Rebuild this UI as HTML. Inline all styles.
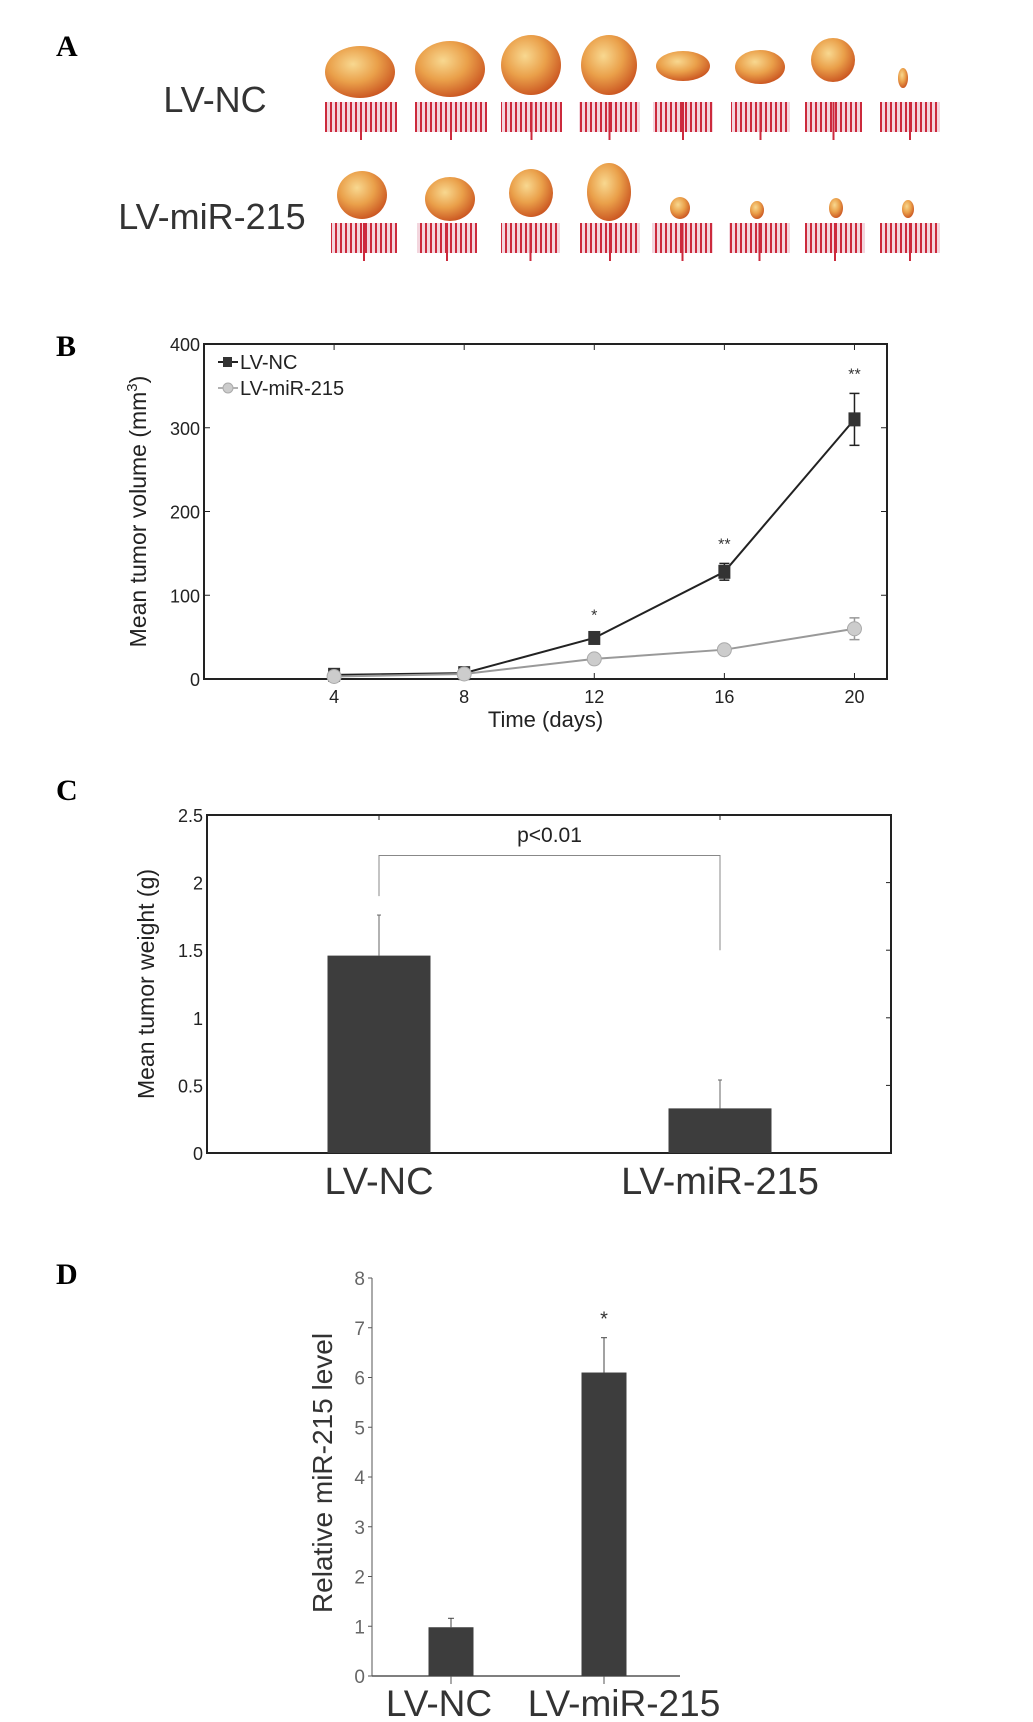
<!DOCTYPE html>
<html><head><meta charset="utf-8"><style>
html,body{margin:0;padding:0;background:#fff;}
svg{display:block;font-family:"Liberation Sans",Arial,sans-serif;}
.pl{font-family:"Liberation Serif",serif;font-weight:bold;font-size:30px;}
</style></head><body>
<svg id="fig" width="1033" height="1722" viewBox="0 0 1033 1722" xmlns="http://www.w3.org/2000/svg">
<defs>
<radialGradient id="tg" cx="0.4" cy="0.35" r="0.7">
<stop offset="0" stop-color="#f8d890"/><stop offset="0.5" stop-color="#eaa04a"/><stop offset="1" stop-color="#c8501e"/>
</radialGradient>
<pattern id="rul" width="5" height="40" patternUnits="userSpaceOnUse">
<rect width="5" height="40" fill="#f3d6de"/><rect x="0" width="2" height="40" fill="#cc2a3c"/>
</pattern>
</defs>
<text class="pl" x="56" y="56">A</text>
<text x="215" y="112" font-size="36" text-anchor="middle" fill="#333">LV-NC</text>
<text x="212" y="229" font-size="36" text-anchor="middle" fill="#333">LV-miR-215</text>
<g id="photos"></g>

<text class="pl" x="56" y="356">B</text>
<g id="chartB"></g>
<text class="pl" x="56" y="800">C</text>
<g id="chartC"></g>
<text class="pl" x="56" y="1284">D</text>
<g id="chartD"></g>
</svg>
<script>
// ---- Panel B data ----
const daysB = [4, 8, 12, 16, 20];
const ncVol = [5, 7, 49, 128, 310];
const ncErr = [2, 2, 4, 10, 31];
const mirVol = [3, 6, 24, 35, 60];
const mirErr = [2, 2, 3, 4, 13];
const starsB = ["", "", "*", "**", "**"];
const yTicksB = [0, 100, 200, 300, 400];
const xTicksB = [4, 8, 12, 16, 20];
// ---- Panel C data ----
const catsC = ["LV-NC", "LV-miR-215"];
const weightC = [1.46, 0.33];
const weightErrC = [0.30, 0.21];
const yTicksC = [0, 0.5, 1, 1.5, 2, 2.5];
// ---- Panel D data ----
const catsD = ["LV-NC", "LV-miR-215"];
const levelD = [0.98, 6.1];
const levelErrD = [0.18, 0.7];
const yTicksD = [0, 1, 2, 3, 4, 5, 6, 7, 8];

const NS = "http://www.w3.org/2000/svg";
function mk(p, tag, a, txt){const e=document.createElementNS(NS,tag);for(const k in a)e.setAttribute(k,a[k]);if(txt!==undefined)e.textContent=txt;p.appendChild(e);return e;}

// ---- Panel A photos ----
const ph = document.getElementById('photos');
const tum = [[360,72,35,26],[450,69,35,28],[531,65,30,30],[609,65,28,30],[683,66,27,15],[760,67,25,17],[833,60,22,22],[903,78,5,10],
[362,195,25,24],[450,199,25,22],[531,193,22,24],[609,192,22,29],[680,208,10,11],[757,210,7,9],[836,208,7,10],[908,209,6,9]];
const rul = [[325,397,102],[415,487,102],[501,562,102],[579,640,102],[653,713,102],[731,790,102],[805,862,102],[880,940,102],
[331,397,223],[417,477,223],[501,560,223],[580,640,223],[652,713,223],[729,790,223],[805,865,223],[880,940,223]];
rul.forEach(r=>{
  const g=mk(ph,'rect',{x:r[0],y:r[2],width:r[1]-r[0],height:30,fill:'url(#rul)'});
  
  
  mk(ph,'line',{x1:(r[0]+r[1])/2,x2:(r[0]+r[1])/2,y1:r[2],y2:r[2]+38,stroke:'#cc2a3c','stroke-width':2});
});
tum.forEach(t=>{
  const e=mk(ph,'ellipse',{cx:t[0],cy:t[1],rx:t[2],ry:t[3],fill:'url(#tg)'});
  
  
});

// ---- Panel B ----
(function(){
  const g=document.getElementById('chartB');
  const L=204,R=887,T=344,B=679;
  const x=d=>L+(d-0)*(R-L)/21, y=v=>B-v*(B-T)/400;
  mk(g,'rect',{x:L,y:T,width:R-L,height:B-T,fill:'none',stroke:'#222','stroke-width':2});
  yTicksB.forEach(t=>{
    mk(g,'line',{x1:L,x2:L+6,y1:y(t),y2:y(t),stroke:'#222'});
    mk(g,'line',{x1:R,x2:R-6,y1:y(t),y2:y(t),stroke:'#222'});
    const tx=mk(g,'text',{x:L-4,y:y(t)+7,'font-size':18,'text-anchor':'end',fill:'#222'},String(t));
    
    
  });
  xTicksB.forEach(t=>{
    mk(g,'line',{x1:x(t),x2:x(t),y1:B,y2:B-6,stroke:'#222'});
    mk(g,'line',{x1:x(t),x2:x(t),y1:T,y2:T+6,stroke:'#222'});
    const tx=mk(g,'text',{x:x(t),y:B+24,'font-size':18,'text-anchor':'middle',fill:'#222'},String(t));
    
    
  });
  const xt=mk(g,'text',{x:x(10.5),y:B+48,'font-size':22,'text-anchor':'middle',fill:'#222'},'Time (days)');
  
  
  const yt=mk(g,'text',{transform:`translate(146,${(T+B)/2}) rotate(-90)`,'font-size':23,'text-anchor':'middle',fill:'#222'});
  
  
  yt.textContent='Mean tumor volume (mm';
  mk(yt,'tspan',{'font-size':15,dy:-9},'3');
  mk(yt,'tspan',{dy:9},')');
  const draw=(vals,errs,col,mark,name)=>{
    const pl=mk(g,'polyline',{points:daysB.map((d,i)=>x(d)+','+y(vals[i])).join(' '),fill:'none',stroke:col,'stroke-width':2});
    
    
    daysB.forEach((d,i)=>{
      const cx=x(d),cy=y(vals[i]);
      mk(g,'line',{x1:cx,x2:cx,y1:y(vals[i]+errs[i]),y2:y(vals[i]-errs[i]),stroke:col,'stroke-width':1.5});
      mk(g,'line',{x1:cx-5,x2:cx+5,y1:y(vals[i]+errs[i]),y2:y(vals[i]+errs[i]),stroke:col,'stroke-width':1.5});
      mk(g,'line',{x1:cx-5,x2:cx+5,y1:y(vals[i]-errs[i]),y2:y(vals[i]-errs[i]),stroke:col,'stroke-width':1.5});
      let m;
      if(mark==='sq') m=mk(g,'rect',{x:cx-6,y:cy-7,width:12,height:14,fill:'#333'});
      else m=mk(g,'ellipse',{cx:cx,cy:cy,rx:7,ry:7,fill:'#ccc',stroke:'#aaa'});
      
      
    });
  };
  draw(ncVol,ncErr,'#222','sq','lv-nc');
  draw(mirVol,mirErr,'#999','ci','lv-mir-215');
  daysB.forEach((d,i)=>{ if(starsB[i]){
    const s=mk(g,'text',{x:x(d),y:y(ncVol[i]+ncErr[i])-14,'font-size':16,'text-anchor':'middle',fill:'#333'},starsB[i]);
    
    
  }});
  mk(g,'line',{x1:218,x2:238,y1:362,y2:362,stroke:'#222','stroke-width':2});
  mk(g,'rect',{x:223,y:357,width:9,height:10,fill:'#333'});
  const l1=mk(g,'text',{x:240,y:369,'font-size':20,fill:'#222'},'LV-NC');
  
  
  mk(g,'line',{x1:218,x2:238,y1:388,y2:388,stroke:'#999','stroke-width':1.5});
  mk(g,'circle',{cx:228,cy:388,r:5,fill:'#ccc',stroke:'#aaa'});
  const l2=mk(g,'text',{x:240,y:395,'font-size':20,fill:'#222'},'LV-miR-215');
  
  
})();

// ---- Panel C ----
(function(){
  const g=document.getElementById('chartC');
  const L=207,R=891,T=815,B=1153;
  const y=v=>B-v*(B-T)/2.5;
  const cx=[379,720], bw=103;
  mk(g,'rect',{x:L,y:T,width:R-L,height:B-T,fill:'none',stroke:'#222','stroke-width':2});
  yTicksC.forEach(t=>{
    mk(g,'line',{x1:R,x2:R-5,y1:y(t),y2:y(t),stroke:'#222'});
    const tx=mk(g,'text',{x:L-4,y:y(t)+7,'font-size':18,'text-anchor':'end',fill:'#222'},String(t));
    
    
  });
  cx.forEach(c=>mk(g,'line',{x1:c,x2:c,y1:T,y2:T+5,stroke:'#222'}));
  catsC.forEach((c,i)=>{
    mk(g,'line',{x1:cx[i],x2:cx[i],y1:y(weightC[i]),y2:y(weightC[i]+weightErrC[i]),stroke:'#666'});
    mk(g,'line',{x1:cx[i]-2,x2:cx[i]+2,y1:y(weightC[i]+weightErrC[i]),y2:y(weightC[i]+weightErrC[i]),stroke:'#666'});
    const b=mk(g,'rect',{x:cx[i]-bw/2,y:y(weightC[i]),width:bw,height:B-y(weightC[i]),fill:'#3d3d3d'});
    
    
    const t=mk(g,'text',{x:cx[i],y:1194,'font-size':38,'text-anchor':'middle',fill:'#333'},c);
    
    
  });
  mk(g,'polyline',{points:`${cx[0]},${y(1.9)} ${cx[0]},${y(2.2)} ${cx[1]},${y(2.2)} ${cx[1]},${y(1.5)}`,fill:'none',stroke:'#888'});
  const p=mk(g,'text',{x:(cx[0]+cx[1])/2,y:842,'font-size':21,'text-anchor':'middle',fill:'#222'},'p<0.01');
  
  
  const yt=mk(g,'text',{transform:`translate(154,${(T+B)/2}) rotate(-90)`,'font-size':23,'text-anchor':'middle',fill:'#222'},'Mean tumor weight (g)');
  
  
})();

// ---- Panel D ----
(function(){
  const g=document.getElementById('chartD');
  const L=372,R=680,T=1278,B=1676;
  const y=v=>B-v*(B-T)/8;
  const cx=[451,604], bw=45;
  mk(g,'line',{x1:L,x2:L,y1:T,y2:B,stroke:'#555'});
  mk(g,'line',{x1:L,x2:R,y1:B,y2:B,stroke:'#555','stroke-width':1.5});
  yTicksD.forEach(t=>{
    mk(g,'line',{x1:L,x2:L-4,y1:y(t),y2:y(t),stroke:'#555'});
    const tx=mk(g,'text',{x:L-7,y:y(t)+7,'font-size':19,'text-anchor':'end',fill:'#666','font-weight':'300'},String(t));
    
    
  });
  catsD.forEach((c,i)=>{
    mk(g,'line',{x1:cx[i],x2:cx[i],y1:B,y2:B+8,stroke:'#555'});
    mk(g,'line',{x1:cx[i],x2:cx[i],y1:y(levelD[i]),y2:y(levelD[i]+levelErrD[i]),stroke:'#444'});
    mk(g,'line',{x1:cx[i]-3,x2:cx[i]+3,y1:y(levelD[i]+levelErrD[i]),y2:y(levelD[i]+levelErrD[i]),stroke:'#444'});
    const b=mk(g,'rect',{x:cx[i]-bw/2,y:y(levelD[i]),width:bw,height:B-y(levelD[i]),fill:'#3d3d3d'});
    
    
  });
  const t1=mk(g,'text',{x:439,y:1716,'font-size':37,'text-anchor':'middle',fill:'#333'},catsD[0]);
  
  
  const t2=mk(g,'text',{x:624,y:1716,'font-size':37,'text-anchor':'middle',fill:'#333'},catsD[1]);
  
  
  const s=mk(g,'text',{x:cx[1],y:y(levelD[1]+levelErrD[1])-12,'font-size':20,'text-anchor':'middle',fill:'#333'},'*');
  
  
  const yt=mk(g,'text',{transform:`translate(332,${1473}) rotate(-90)`,'font-size':28,'text-anchor':'middle',fill:'#333'},'Relative miR-215 level');
  
  
})();
</script>
</body></html>
